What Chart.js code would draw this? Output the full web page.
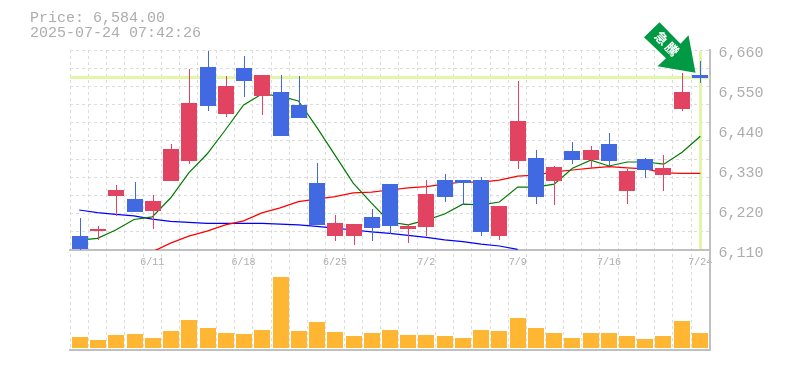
<!DOCTYPE html>
<html>
<head>
<meta charset="utf-8">
<style>html,body{margin:0;padding:0;background:#fff}canvas{display:block}</style>
<script src="https://cdn.jsdelivr.net/npm/chart.js@4"></script>
</head>
<body>
<canvas id="c" width="785" height="370"></canvas>
<script>
const priceText = "Price: 6,584.00";
const timeText = "2025-07-24 07:42:26";
const arrowText = ["急", "騰"];
const currentPrice = 6584;
const dates = ["6/5","6/6","6/9","6/10","6/11","6/12","6/13","6/16","6/17","6/18","6/19","6/20","6/23","6/24","6/25","6/26","6/27","6/30","7/1","7/2","7/3","7/4","7/7","7/8","7/9","7/10","7/11","7/14","7/15","7/16","7/17","7/18","7/22","7/23","7/24"];
const shownDates = ["6/11","6/18","6/25","7/2","7/9","7/16","7/24"];
const opens  = [6148,6162,6258,6250,6217,6300,6355,6613,6484,6610,6533,6544,6509,6294,6148,6148,6201,6291,6168,6173,6302,6302,6302,6148,6355,6363,6300,6382,6357,6401,6272,6360,6316,6498,6591];
const closes = [6113,6168,6275,6215,6245,6388,6514,6506,6561,6575,6591,6423,6473,6179,6184,6181,6170,6176,6176,6264,6256,6294,6159,6231,6465,6256,6338,6357,6385,6355,6327,6330,6335,6544,6583];
const highs  = [6197,6176,6289,6297,6261,6401,6608,6658,6588,6643,6591,6591,6588,6349,6206,6181,6223,6291,6181,6302,6319,6302,6311,6231,6575,6385,6341,6407,6396,6432,6333,6363,6371,6597,6630];
const lows   = [6108,6137,6203,6215,6168,6300,6346,6492,6476,6531,6481,6423,6473,6179,6135,6124,6135,6154,6129,6148,6242,6234,6148,6137,6333,6236,6234,6346,6333,6341,6236,6308,6272,6492,6569];
const maShort = [6137,6142,6165,6194,6201,6253,6322,6374,6440,6509,6539,6533,6520,6448,6371,6294,6239,6187,6179,6192,6209,6236,6234,6242,6283,6283,6291,6335,6357,6341,6352,6352,6346,6379,6423];
const maMid = [null,null,null,null,6105,6129,6148,6162,6179,6190,6212,6226,6243,6250,6257,6267,6269,6275,6281,6284,6291,6297,6297,6302,6313,6316,6325,6330,6335,6339,6336,6333,6322,6321,6321];
const maLong = [6220,6213,6208,6204,6195,6189,6186,6183,6183,6183,6183,6181,6179,6175,6170,6165,6160,6156,6150,6145,6138,6133,6126,6121,6112];
const volumes = [11,8,13,14,10,17,28,20,15,14,18,71,17,26,16,12,15,18,13,13,12,10,18,17,30,20,15,10,15,15,12,9,12,27,15];
const gridTicks = [6110,6160,6210,6260,6310,6360,6410,6460,6510,6560,6610,6660];
const labelTicks = [6110,6220,6330,6440,6550,6660];

const BLUE = "#4169e1", RED = "#e24360", ORANGE = "#ffb733", LIME = "#e3f5a8", GRID = "#dcdcdc", AXIS = "#c0c0c0", TEXT = "#adadad", ARROW = "#009944";
const candleColors = opens.map((o, i) => closes[i] >= o ? RED : BLUE);
const monoBig = { family: "'Liberation Mono', monospace", size: 15 };
const monoSmall = { family: "'Liberation Mono', monospace", size: 10 };

// Whole-pixel alignment of the positions the scales give, so bars stay crisp.
const snapX = px => Math.round(px * 0.99808 + 0.947);

const overlay = {
  id: "overlay",
  beforeDatasetsDraw(chart) {
    const { ctx, scales: { x, y } } = chart;
    chart.data.datasets.forEach((ds, di) => {
      if (ds.type === "line") return;
      chart.getDatasetMeta(di).data.forEach(el => {
        el.x = snapX(el.x) + (ds.barThickness === 1 ? 0.5 : 0);
        el.y = Math.round(el.y);
        el.base = Math.round(el.base);
      });
    });
    ctx.save();
    ctx.fillStyle = LIME;
    const py = Math.floor(y.getPixelForValue(currentPrice));
    ctx.fillRect(x.left, py - 1, x.right - x.left, 3);
    const px = snapX(x.getPixelForValue(dates.length - 1));
    ctx.fillRect(px - 1, y.top + 1, 3, y.bottom - y.top - 2);
    ctx.restore();
  },
  afterDatasetsDraw(chart) {
    const { ctx, scales: { x, y } } = chart;
    const tx = snapX(x.getPixelForValue(dates.length - 1)) - 4.5;
    const ty = y.getPixelForValue(currentPrice) - 5;
    ctx.save();
    ctx.translate(tx, ty);
    ctx.fillStyle = ARROW;
    ctx.beginPath();
    ctx.moveTo(0, 0);
    ctx.lineTo(-7, -37.5);
    ctx.lineTo(-15, -29);
    ctx.lineTo(-36, -50.5);
    ctx.lineTo(-51.5, -35.5);
    ctx.lineTo(-29.5, -14.5);
    ctx.lineTo(-38, -6.5);
    ctx.closePath();
    ctx.fill();
    ctx.fillStyle = "#fff";
    ctx.font = "bold 13px 'Noto Sans CJK JP'";
    ctx.textAlign = "center";
    ctx.textBaseline = "middle";
    [[-34, -34.5], [-23.5, -23.5]].forEach((p, i) => {
      ctx.save();
      ctx.translate(p[0], p[1]);
      ctx.rotate(Math.PI / 4);
      ctx.fillText(arrowText[i], 0, 0);
      ctx.restore();
    });
    ctx.restore();
  },
  afterDraw(chart) {
    const { ctx } = chart;
    ctx.save();
    ctx.fillStyle = TEXT;
    ctx.font = "15px 'Liberation Mono', monospace";
    ctx.textBaseline = "middle";
    ctx.fillText(priceText, 30, 18);
    ctx.fillText(timeText, 30, 33);
    ctx.restore();
  }
};

new Chart(document.getElementById("c"), {
  type: "bar",
  data: {
    labels: dates,
    datasets: [
      { type: "line", data: maLong, borderColor: "#0000ff", borderWidth: 1.25, pointRadius: 0, tension: 0, order: 5, yAxisID: "y" },
      { type: "line", data: maMid, borderColor: "#ff0000", borderWidth: 1.25, pointRadius: 0, tension: 0, order: 4, yAxisID: "y" },
      { type: "line", data: maShort, borderColor: "#007a00", borderWidth: 1.2, pointRadius: 0, tension: 0, order: 3, yAxisID: "y" },
      { data: lows.map((l, i) => [l, highs[i]]), backgroundColor: candleColors, barThickness: 1, inflateAmount: 0, grouped: false, order: 2, yAxisID: "y" },
      { data: opens.map((o, i) => [o, closes[i]]), backgroundColor: candleColors, barThickness: 16, inflateAmount: 0, grouped: false, order: 1, yAxisID: "y" },
      { data: volumes, backgroundColor: ORANGE, barThickness: 16, inflateAmount: 0, grouped: false, order: 1, xAxisID: "xv", yAxisID: "yv" }
    ]
  },
  options: {
    responsive: false,
    animation: false,
    events: [],
    layout: { autoPadding: false, padding: { left: 70.05, top: 50, right: 0, bottom: 20 } },
    plugins: { legend: { display: false }, title: { display: false }, tooltip: { enabled: false } },
    scales: {
      x: {
        type: "category",
        position: { y: 6110 },
        offset: true,
        grid: { offset: true, color: GRID, lineWidth: 1, drawTicks: false },
        border: { color: AXIS, width: 2, dash: [3, 3] },
        ticks: {
          autoSkip: false, maxRotation: 0, padding: 6, color: TEXT, font: monoSmall,
          callback(value) { const d = this.getLabelForValue(value); return shownDates.includes(d) ? d : ""; }
        }
      },
      xv: {
        type: "category",
        position: "bottom",
        offset: true,
        grid: { display: false, drawTicks: false },
        border: { color: AXIS, width: 2 },
        ticks: { display: false }
      },
      y: {
        type: "linear",
        position: "right",
        stack: "panes",
        stackWeight: 2,
        min: 6110,
        max: 6660,
        afterFit(s) { s.width = 75.5; },
        afterBuildTicks(s) {
          const all = [...new Set([...gridTicks, ...labelTicks])].sort((a, b) => a - b);
          s.ticks = all.map(v => ({ value: v }));
        },
        grid: {
          drawTicks: false, lineWidth: 1,
          color(ctx) { return ctx.tick && gridTicks.includes(ctx.tick.value) ? GRID : "rgba(0,0,0,0)"; }
        },
        border: { color: AXIS, width: 2, dash: [3, 3] },
        ticks: {
          autoSkip: false, padding: 9, labelOffset: 3, color: TEXT, font: monoBig,
          callback(v) { return labelTicks.includes(v) ? v.toLocaleString("en-US") : ""; }
        }
      },
      yv: {
        type: "linear",
        position: "right",
        stack: "panes",
        stackWeight: 1,
        min: -2,
        max: 98,
        afterFit(s) { s.width = 75.5; },
        grid: { display: false, drawTicks: false },
        border: { color: AXIS, width: 2 },
        ticks: { display: false }
      }
    }
  },
  plugins: [overlay]
});
</script>
</body>
</html>
